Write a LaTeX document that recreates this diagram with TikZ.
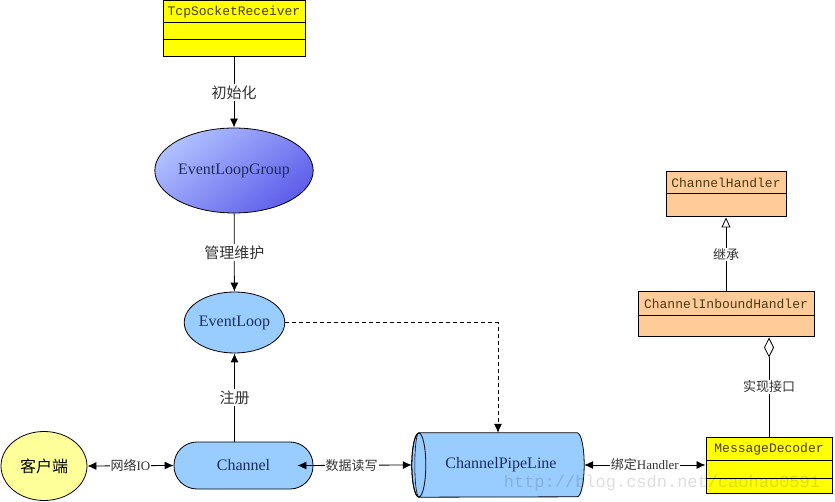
\documentclass[tikz,border=0pt]{standalone}
\usepackage{fontspec}
\setmainfont{Liberation Serif}
\setmonofont{Liberation Mono}
\newfontfamily\cjk{Noto Sans CJK SC}
\usetikzlibrary{arrows.meta,shapes.geometric,calc}
\definecolor{ylw}{HTML}{FFFF00}
\definecolor{org}{HTML}{FFCC99}
\definecolor{lblue}{HTML}{99CCFF}
\definecolor{cyell}{HTML}{FFFF99}
\definecolor{elgtop}{HTML}{B0C0FF}
\definecolor{elgbot}{HTML}{5E5EEA}
\definecolor{navy}{HTML}{1F2D5C}
\definecolor{txtbrown}{HTML}{4A3A10}
\definecolor{lblgray}{HTML}{333333}
\begin{document}
\begin{tikzpicture}[x=1pt,y=-1pt,
  cls/.style={draw=black, line width=1pt, inner sep=0pt},
  ybox/.style={cls, fill=ylw},
  obox/.style={cls, fill=org},
  clsname/.style={font=\ttfamily\fontsize{13}{13}\selectfont, text=txtbrown, inner sep=0pt},
  lbl/.style={fill=white, inner sep=1pt, font=\fontsize{13}{13}\selectfont, text=lblgray},
  vlbl/.style={fill=white, inner sep=2pt, font=\cjk\fontsize{15}{15}\selectfont, text=lblgray},
  ntext/.style={font=\fontsize{16}{16}\selectfont, text=navy},
  arr/.style={-{Latex[length=9pt,width=8pt]}, line width=0.8pt},
  darr/.style={{Latex[length=9pt,width=8pt]}-{Latex[length=9pt,width=8pt]}, line width=0.8pt},
  dasharr/.style={-{Latex[length=9pt,width=8pt]}, line width=0.8pt, dash pattern=on 4pt off 3pt},
  inh/.style={-{Triangle[open, length=10pt, width=9pt, fill=white]}, line width=0.8pt},
  agg/.style={-{Diamond[open, length=20pt, width=10pt, fill=white]}, line width=0.8pt}
]
\useasboundingbox (0,0) rectangle (835,502);
\fill[white] (0,0) rectangle (835,502);

% class boxes
\node[ybox, minimum width=142pt, minimum height=56pt] (tcp) at (234,29) {};
\node[clsname] at (234,12) {TcpSocketReceiver};
\draw[line width=1pt] ($(tcp.north west)+(0,22)$) -- ($(tcp.north east)+(0,22)$);
\draw[line width=1pt] ($(tcp.north west)+(0,39)$) -- ($(tcp.north east)+(0,39)$);

\node[obox, minimum width=120pt, minimum height=45pt] (hnd) at (726,194.5) {};
\node[clsname] at (726,183) {ChannelHandler};
\draw[line width=1pt] ($(hnd.north west)+(0,22)$) -- ($(hnd.north east)+(0,22)$);

\node[obox, minimum width=176pt, minimum height=45pt] (inb) at (726,314.5) {};
\node[clsname] at (726,304) {ChannelInboundHandler};
\draw[line width=1pt] ($(inb.north west)+(0,24)$) -- ($(inb.north east)+(0,24)$);

\node[ybox, minimum width=126pt, minimum height=56pt] (dec) at (769,465) {};
\node[clsname] at (769,449) {MessageDecoder};
\draw[line width=1pt] ($(dec.north west)+(0,24)$) -- ($(dec.north east)+(0,24)$);
\draw[line width=1pt] ($(dec.north west)+(0,42)$) -- ($(dec.north east)+(0,42)$);

% ellipses
\node[ellipse, draw=black, line width=0.8pt, minimum width=158pt, minimum height=85pt, inner sep=0pt,
      top color=elgtop, bottom color=elgbot, shading angle=40, ntext] (elg) at (234,170.5) {EventLoopGroup};
\node[ellipse, draw=black, line width=0.8pt, minimum width=95pt, minimum height=61pt, inner sep=0pt,
      fill=lblue, ntext] (el) at (234.5,322.5) {EventLoop};
\node[ellipse, draw=black, line width=0.8pt, minimum width=86pt, minimum height=69pt, inner sep=0pt,
      fill=cyell, font=\cjk\fontsize{16}{16}\selectfont] (cl) at (44,466) {客户端};

% Channel
\node[draw=black, line width=0.8pt, fill=lblue, rounded corners=23pt, minimum width=139pt,
      minimum height=47pt, inner sep=0pt, ntext] (ch) at (243.5,465.5) {Channel};

% ChannelPipeLine cylinder
\node[minimum width=172pt, minimum height=64pt, inner sep=0pt] (pl) at (498,465) {};
\filldraw[fill=lblue, line width=0.8pt]
  ($(pl.north west)+(7,0)$) -- ($(pl.north east)+(-7,0)$)
  arc[start angle=-90, end angle=90, x radius=7, y radius=32]
  -- ($(pl.south west)+(7,0)$)
  arc[start angle=90, end angle=270, x radius=7, y radius=32] -- cycle;
\draw[line width=0.8pt] ($(pl.west)+(7,0)$) ellipse [x radius=7, y radius=32];
\draw[line width=0.6pt] ($(pl.north west)+(7,0)$) arc[start angle=-90, end angle=-270, x radius=4, y radius=32];
\node[ntext] at (501,465) {ChannelPipeLine};

% connectors
\draw[arr] (tcp) -- node[vlbl] {初始化} (elg);
\draw[arr] (elg) -- node[vlbl] {管理维护} (el);
\draw[arr] (el.south |- ch.north) -- node[vlbl] {注册} (el.south);
\draw[darr] (cl.east) -- node[lbl] {{\cjk 网络}IO} (ch.west);
\draw[darr] ([xshift=-16pt]ch.east) -- node[lbl, xshift=-3pt] {\cjk 数据读写} (pl.west);
\draw[darr] (pl.east) -- node[lbl] {{\cjk 绑定}Handler} (dec.west);
\draw[dasharr] (el.east) -| (pl.north);
\draw[inh] (inb.north) -- node[lbl, font=\cjk\fontsize{13}{13}\selectfont] {继承} (hnd.south);
\draw[agg] (dec.north) -- node[lbl, font=\cjk\fontsize{13}{13}\selectfont] {实现接口} (dec.north |- inb.south);

% watermark
\node[font=\ttfamily\fontsize{17}{17}\selectfont, text=black, opacity=0.13, inner sep=0pt] (wm) at (662,483) {http://blog.csdn.net/caohao0591};
\end{tikzpicture}
\end{document}
